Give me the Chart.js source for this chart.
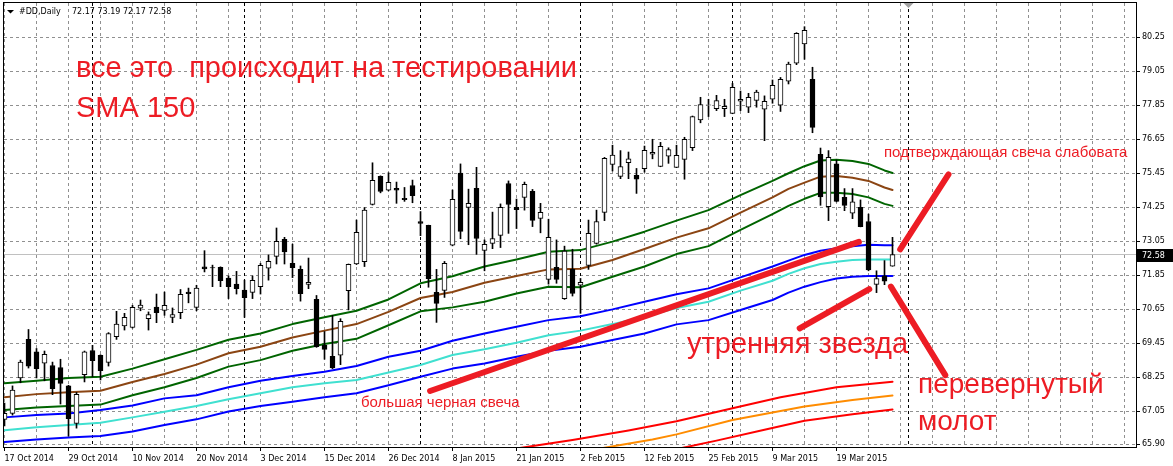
<!DOCTYPE html>
<html><head><meta charset="utf-8">
<script src="https://cdn.jsdelivr.net/npm/chart.js@4/dist/chart.umd.min.js"></script>
<style>html,body{margin:0;padding:0;background:#fff;}#wrap{width:1173px;height:466px;}</style>
</head><body><div id="wrap"><canvas id="c" width="1173" height="466"></canvas></div>
<script>
// ---------- DATA ----------
const symbolTitle = '#DD,Daily';
const dateLabels = ['17 Oct 2014','29 Oct 2014','10 Nov 2014','20 Nov 2014','3 Dec 2014','15 Dec 2014','26 Dec 2014','8 Jan 2015','21 Jan 2015','2 Feb 2015','12 Feb 2015','25 Feb 2015','9 Mar 2015','19 Mar 2015'];
const dateLabelBars = [0,8,16,24,32,40,48,56,64,72,80,88,96,104];
const monthStartBars = [11,30,52,72,91,113];
const priceTicks = [80.25,79.05,77.85,76.65,75.45,74.25,73.05,71.85,70.65,69.45,68.25,67.05,65.90];

const openP = [66.77,66.98,68.23,69.59,69.15,68.75,68.67,68.60,67.95,66.63,68.35,69.20,69.03,68.78,69.69,70.07,70.01,70.69,70.32,70.73,70.61,70.37,70.53,71.26,70.72,72.15,72.12,72.13,71.75,71.54,71.33,71.25,71.45,72.10,72.52,73.12,72.27,72.06,71.53,71.00,69.38,68.99,69.03,71.31,72.25,72.33,74.35,75.34,74.85,74.92,74.57,75.02,73.75,73.61,71.25,71.32,72.91,75.46,74.25,74.92,72.73,72.98,73.26,75.09,74.25,74.60,74.81,73.86,71.71,72.13,71.03,72.06,71.50,72.20,72.98,74.07,75.76,75.34,75.82,75.38,75.61,76.12,75.69,76.05,75.66,75.94,76.35,77.33,77.85,77.73,77.73,77.56,77.99,77.78,78.02,77.71,78.06,77.85,78.70,79.33,80.01,78.76,76.12,74.27,75.78,74.60,74.04,74.25,73.75,71.53,71.83,72.17];
const highP = [67.34,67.95,68.86,69.94,69.27,69.18,68.79,68.89,67.97,67.72,69.18,69.38,69.05,69.83,70.58,70.51,70.79,70.98,70.56,71.19,71.26,70.70,71.35,71.40,71.50,72.72,72.21,72.15,71.83,71.99,71.68,71.83,72.27,72.57,73.52,73.19,72.95,72.18,72.46,71.14,69.87,70.44,70.32,72.25,73.80,74.24,75.82,75.36,75.47,75.14,74.95,75.21,74.10,73.62,72.06,72.34,74.86,75.78,74.89,75.66,73.10,74.08,74.37,75.18,74.54,75.14,74.88,74.39,73.83,73.10,72.88,72.77,71.74,73.80,74.15,76.01,76.44,76.25,76.20,75.62,76.41,76.65,76.54,76.35,76.44,76.72,77.47,78.13,78.06,78.20,78.06,78.62,78.35,78.27,78.38,78.18,78.74,78.83,79.37,80.41,80.62,79.19,76.34,76.25,75.92,74.91,74.91,74.51,74.01,72.01,72.37,73.19];
const lowP = [66.54,66.92,68.06,68.58,68.23,68.13,67.64,67.31,66.18,66.46,68.09,68.27,68.16,68.65,69.59,69.92,69.99,70.60,69.92,70.18,70.44,70.18,70.32,70.88,70.60,71.97,71.45,71.45,71.03,71.19,70.37,71.03,71.19,71.68,72.25,72.25,71.77,70.94,71.38,69.31,68.89,68.56,68.70,70.63,72.23,72.16,74.33,74.76,74.83,74.39,74.46,74.41,73.25,71.43,70.19,71.07,72.89,73.14,72.93,72.59,72.01,72.79,72.83,73.33,73.50,74.15,73.57,73.35,71.54,71.57,71.00,71.12,70.51,72.06,72.95,73.78,75.53,75.26,75.26,74.74,75.49,75.96,75.68,75.80,75.65,75.24,76.25,77.23,77.45,77.66,77.45,77.55,77.66,77.59,77.78,76.60,77.92,77.63,78.60,79.28,79.47,76.88,74.32,73.78,74.44,74.13,73.85,73.56,72.01,71.24,71.52,72.17];
const closeP = [66.98,67.80,68.79,68.65,68.56,69.06,67.85,68.04,66.79,67.65,69.15,68.84,68.49,69.80,70.13,70.37,70.72,70.80,70.47,70.53,70.79,70.47,71.18,71.20,71.40,72.08,72.11,71.66,71.45,71.38,71.06,71.67,72.20,72.34,73.05,72.68,72.12,71.20,71.60,69.33,69.24,68.58,70.23,72.24,73.37,74.15,75.20,74.81,75.13,74.85,74.52,74.66,73.68,71.73,70.86,72.27,74.53,73.40,74.39,73.15,72.94,73.15,74.25,74.35,74.17,75.06,73.79,74.07,73.19,71.71,72.71,71.21,71.60,73.33,73.75,75.98,76.09,75.69,75.96,75.24,76.26,76.19,76.40,76.29,76.08,76.65,77.45,77.87,77.86,78.01,77.81,78.48,78.06,78.13,78.31,77.99,78.55,78.76,79.30,80.39,80.49,77.07,74.62,76.01,74.46,74.32,74.44,73.57,72.04,71.74,71.64,72.58];

// moving-average envelope lines, read at these bars
const maBars      = [0,4,8,12,16,20,24,28,32,36,40,44,48,52,56,60,64,68,72,76,80,84,88,92,96,98,100,102,104,106,108,110,111];
const greenUpper  = [68.04,68.13,68.23,68.27,68.56,68.89,69.22,69.58,69.80,70.13,70.37,70.60,71.00,71.57,71.82,72.16,72.41,72.68,72.74,73.04,73.39,73.78,74.15,74.68,75.18,75.45,75.70,75.90,75.93,75.88,75.78,75.55,75.46];
const brownMiddle = [67.55,67.66,67.73,67.78,68.09,68.37,68.70,69.10,69.33,69.66,69.90,70.13,70.56,71.05,71.26,71.59,71.83,72.06,72.08,72.39,72.78,73.18,73.51,74.06,74.60,74.90,75.12,75.33,75.35,75.29,75.18,74.95,74.86];
const greenLower  = [67.10,67.19,67.24,67.29,67.62,67.90,68.23,68.63,68.86,69.19,69.43,69.61,70.09,70.58,70.72,70.92,71.21,71.45,71.43,71.80,72.16,72.60,72.88,73.45,74.01,74.30,74.55,74.76,74.76,74.72,74.60,74.37,74.30];
const blueUpper   = [66.84,66.92,66.98,67.10,67.26,67.51,67.62,67.90,68.13,68.30,68.45,68.65,68.98,69.19,69.54,69.80,70.04,70.27,70.41,70.65,70.92,71.18,71.39,71.78,72.16,72.37,72.57,72.72,72.81,72.88,72.93,72.91,72.91];
const cyanMiddle  = [66.39,66.49,66.57,66.65,66.84,67.04,67.24,67.48,67.69,67.90,68.04,68.16,68.42,68.69,69.04,69.24,69.47,69.74,69.90,70.13,70.39,70.70,70.92,71.31,71.66,71.90,72.10,72.25,72.33,72.39,72.41,72.41,72.41];
const blueLower   = [65.97,66.06,66.13,66.18,66.34,66.57,66.77,67.05,67.24,67.39,67.55,67.69,67.97,68.27,68.56,68.74,68.98,69.19,69.33,69.57,69.80,70.12,70.27,70.63,70.98,71.24,71.45,71.61,71.74,71.80,71.83,71.83,71.83];
const redUpperBars = [63,71,78,84,91,97,104,111];
const redUpper     = [65.70,66.04,66.38,66.70,67.16,67.55,67.90,68.10];
const orangeBars   = [74,81,84,91,100,106,111];
const orangeMiddle = [65.72,66.06,66.24,66.75,67.22,67.45,67.61];
const redLowerBars = [84,89,95,100,106,111];
const redLower     = [65.72,66.02,66.40,66.72,66.95,67.12];

// hand-drawn red annotation strokes, in [bar, price]
const strokeBigCandle = [[53.2,67.77],[106.8,73.03]];
const strokeStar      = [[99.4,69.98],[108.1,71.36]];
const strokeHammer    = [[110.8,71.45],[117.6,68.33]];
const strokeConfirm   = [[111.96,72.77],[118.0,75.41]];

const notesBig = ['все это  происходит на тестировании','SMA 150','утренняя звезда','перевернутый','молот'];
const notesSmall = ['подтверждающая свеча слабовата','большая черная свеча'];

// ---------- BUILD ----------
const bars = openP.map((_, i) => i);
const lastBar = bars.length - 1;
const bodyData = bars.map(i => ({x: i, y: [openP[i], closeP[i]]}));
const wickData = bars.map(i => ({x: i, y: [lowP[i], highP[i]]}));
const bodyFill = bars.map(i => closeP[i] >= openP[i] ? '#ffffff' : '#000000');
const pts = (xs, ys) => xs.map((x, k) => ({x, y: ys[k]}));
const pairPts = p => p.map(([x, y]) => ({x, y}));
const gridBars = [];
for (let b = 0; b <= 140; b += 4) gridBars.push(b);

const RED = '#ed1c24';
const GRID = '#909090';
const TICKFONT = {family: 'DejaVu Sans', size: 8};

function lineDs(data, color, width, order) {
  return {type: 'line', data, borderColor: color, borderWidth: width, pointRadius: 0,
          tension: 0, fill: false, order, borderCapStyle: 'round', borderJoinStyle: 'round'};
}
const crisp = v => Math.round(v - 0.5) + 0.5;

function drawGrid(chart) {
  const {ctx, chartArea: a, scales: {x, y}} = chart;
  ctx.save();
  ctx.lineWidth = 1;
  ctx.strokeStyle = GRID; ctx.setLineDash([3, 3]);
  priceTicks.forEach(v => {
    const py = crisp(y.getPixelForValue(v));
    ctx.beginPath(); ctx.moveTo(a.left, py); ctx.lineTo(a.right, py); ctx.stroke();
  });
  gridBars.forEach(b => {
    const px = crisp(x.getPixelForValue(b));
    if (px < a.left || px > a.right) return;
    ctx.beginPath(); ctx.moveTo(px, a.top); ctx.lineTo(px, a.bottom); ctx.stroke();
  });
  // month separators
  ctx.strokeStyle = '#000';
  monthStartBars.forEach(b => {
    const px = crisp(x.getPixelForValue(b));
    ctx.beginPath(); ctx.moveTo(px, a.top); ctx.lineTo(px, a.bottom); ctx.stroke();
  });
  // bid line
  ctx.setLineDash([]); ctx.strokeStyle = '#c0c0c0';
  const py = crisp(y.getPixelForValue(closeP[lastBar]));
  ctx.beginPath(); ctx.moveTo(a.left, py); ctx.lineTo(a.right, py); ctx.stroke();
  // tick marks
  ctx.strokeStyle = '#000';
  ctx.beginPath();
  priceTicks.forEach(v => {
    const ty = crisp(y.getPixelForValue(v));
    ctx.moveTo(a.right, ty); ctx.lineTo(a.right + 4, ty);
  });
  dateLabelBars.forEach(b => {
    const tx = crisp(x.getPixelForValue(b));
    ctx.moveTo(tx, a.bottom); ctx.lineTo(tx, a.bottom + 4);
  });
  ctx.stroke();
  ctx.restore();
}

const decor = {
  id: 'decor',
  beforeDatasetsDraw(chart) { drawGrid(chart); },
  afterDraw(chart) {
    const {ctx, chartArea: a, scales: {y}} = chart;
    ctx.save();
    // frame
    ctx.strokeStyle = '#000'; ctx.lineWidth = 1;
    ctx.strokeRect(a.left - 0.5, a.top - 0.5, a.right - a.left + 1, a.bottom - a.top + 1);
    // shift marker
    ctx.fillStyle = '#a0a0a0';
    const sx = chart.scales.x.getPixelForValue(monthStartBars[monthStartBars.length - 1]);
    ctx.beginPath(); ctx.moveTo(sx - 5, a.top); ctx.lineTo(sx + 5, a.top); ctx.lineTo(sx, a.top + 5); ctx.closePath(); ctx.fill();
    // title
    ctx.fillStyle = '#000';
    ctx.beginPath(); ctx.moveTo(7, 10); ctx.lineTo(14, 10); ctx.lineTo(10.5, 13.5); ctx.closePath(); ctx.fill();
    ctx.font = '8px "DejaVu Sans"'; ctx.textBaseline = 'middle'; ctx.textAlign = 'left';
    const li = lastBar;
    ctx.fillText(symbolTitle, 19, 12);
    ctx.fillText([openP[li], highP[li], lowP[li], closeP[li]].map(v => v.toFixed(2)).join(' '), 72, 12);
    // price label
    const py = Math.round(y.getPixelForValue(closeP[li]));
    ctx.fillStyle = '#000';
    ctx.fillRect(a.right + 1, py - 6, 1173 - a.right - 1, 13);
    ctx.fillStyle = '#fff';
    ctx.fillText(closeP[li].toFixed(2), a.right + 6, py + 0.5);
    // annotations
    ctx.fillStyle = RED; ctx.textBaseline = 'alphabetic';
    ctx.font = '29px "Liberation Sans"';
    ctx.fillText(notesBig[0], 76, 77);
    ctx.fillText(notesBig[1], 76, 117);
    ctx.fillText(notesBig[2], 687, 353);
    ctx.font = '28px "Liberation Sans"';
    ctx.fillText(notesBig[3], 918, 393);
    ctx.fillText(notesBig[4], 918, 430);
    ctx.font = '15px "Liberation Sans"';
    ctx.fillText(notesSmall[0], 884, 157);
    ctx.fillText(notesSmall[1], 361, 407);
    ctx.restore();
  }
};

new Chart(document.getElementById('c'), {
  type: 'bar',
  data: {
    datasets: [
      lineDs(pairPts(strokeBigCandle), RED, 6, 0),
      lineDs(pairPts(strokeStar), RED, 6, 0),
      lineDs(pairPts(strokeHammer), RED, 6, 0),
      lineDs(pairPts(strokeConfirm), RED, 6, 0),
      {type: 'bar', data: bodyData, backgroundColor: bodyFill, borderColor: '#000', borderWidth: 1,
       borderSkipped: false, barThickness: 5, grouped: false, order: 1},
      {type: 'bar', data: wickData, backgroundColor: '#000', borderWidth: 0,
       barThickness: 1, grouped: false, order: 2},
      lineDs(pts(maBars, greenUpper), '#006400', 2, 3),
      lineDs(pts(maBars, brownMiddle), '#8b4513', 2, 3),
      lineDs(pts(maBars, greenLower), '#006400', 2, 3),
      lineDs(pts(maBars, blueUpper), '#0000ff', 2, 3),
      lineDs(pts(maBars, cyanMiddle), '#40e0d0', 2, 3),
      lineDs(pts(maBars, blueLower), '#0000ff', 2, 3),
      lineDs(pts(redUpperBars, redUpper), '#ff0000', 2, 3),
      lineDs(pts(orangeBars, orangeMiddle), '#ff8c00', 2, 3),
      lineDs(pts(redLowerBars, redLower), '#ff0000', 2, 3)
    ]
  },
  options: {
    responsive: false, animation: false, devicePixelRatio: 1,
    layout: {padding: {left: 4, top: 3, right: 0, bottom: 0}},
    plugins: {legend: {display: false}, tooltip: {enabled: false}},
    scales: {
      x: {
        type: 'linear', offset: false, min: -0.0625, max: 141.4375,
        afterBuildTicks: s => { s.ticks = dateLabelBars.map(v => ({value: v})); },
        afterFit: s => { s.height = 19; s.paddingLeft = 0; s.paddingRight = 0; },
        ticks: {autoSkip: false, maxRotation: 0, minRotation: 0, align: 'start', padding: 3,
                color: '#000', font: TICKFONT,
                callback: v => { const k = dateLabelBars.indexOf(v); return k >= 0 ? dateLabels[k] : ''; }},
        grid: {display: false, drawTicks: true, tickLength: 4},
        border: {display: true, color: '#000'}
      },
      y: {
        type: 'linear', position: 'right', min: 65.795, max: 81.456,
        afterBuildTicks: s => { s.ticks = priceTicks.map(v => ({value: v})); },
        afterFit: s => { s.width = 37; s.paddingTop = 0; s.paddingBottom = 0; },
        ticks: {autoSkip: false, padding: 2, color: '#000', font: TICKFONT, callback: v => v.toFixed(2)},
        grid: {display: false, drawTicks: true, tickLength: 4},
        border: {display: true, color: '#000'}
      }
    }
  },
  plugins: [decor]
});
</script></body></html>
